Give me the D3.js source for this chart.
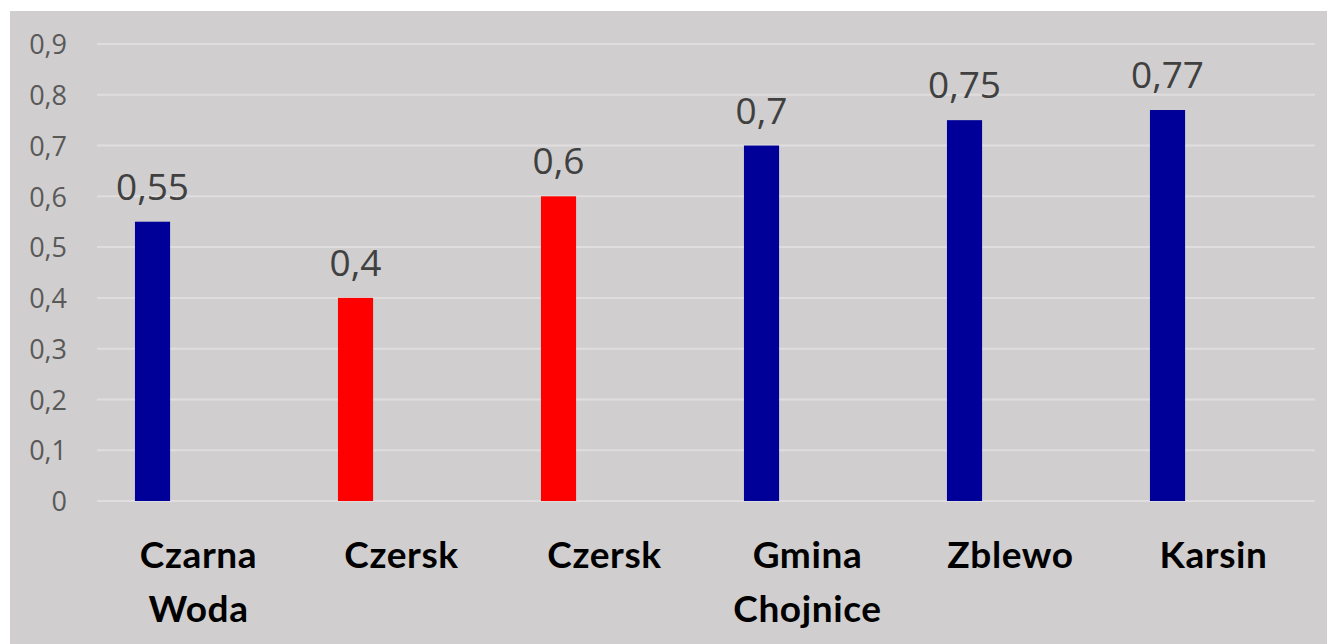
<!DOCTYPE html>
<html>
<head>
<meta charset="utf-8">
<script src="https://cdn.jsdelivr.net/npm/d3@7"></script>
<style>
  body { margin: 0; background: #fff; }
  svg { display: block; }
</style>
</head>
<body>
<svg width="1327" height="644"></svg>
<script>
var categories = [["Czarna", "Woda"], ["Czersk"], ["Czersk"], ["Gmina", "Chojnice"], ["Zblewo"], ["Karsin"]];
var values = [0.55, 0.4, 0.6, 0.7, 0.75, 0.77];
var barColors = ["#000099", "#ff0000", "#ff0000", "#000099", "#000099", "#000099"];
var yTicks = [0, 0.1, 0.2, 0.3, 0.4, 0.5, 0.6, 0.7, 0.8, 0.9];

var svg = d3.select("svg"),
    width = +svg.attr("width"),
    height = +svg.attr("height");

var fmt = function(v) { return String(v).replace(".", ","); };

svg.append("rect")
    .attr("x", 10)
    .attr("y", 11)
    .attr("width", width - 10)
    .attr("height", height - 11)
    .attr("fill", "#d0cece");

var x = d3.scaleBand()
    .domain(d3.range(categories.length))
    .range([97, 1315]);

var y = d3.scaleLinear()
    .domain([0, 0.9])
    .range([501, 44]);

var barW = x.bandwidth() * 0.173,
    barOff = x.bandwidth() * 0.187;

// grid
svg.append("g")
    .selectAll("line")
    .data(yTicks)
    .enter().append("line")
    .attr("x1", x.range()[0])
    .attr("x2", x.range()[1])
    .attr("y1", function(d) { return y(d); })
    .attr("y2", function(d) { return y(d); })
    .attr("stroke", "#dfdddd")
    .attr("stroke-width", 2);

// y axis labels
var yAxis = svg.append("g")
    .attr("transform", "translate(67,0)")
    .call(d3.axisLeft(y).tickValues(yTicks).tickSize(0).tickPadding(0).tickFormat(fmt));
yAxis.select(".domain").remove();
yAxis.selectAll("text")
    .attr("fill", "#595959")
    .attr("font-family", "'Open Sans', sans-serif")
    .attr("font-size", 27)
    .attr("dy", "0.36em");

// bars
svg.append("g")
    .selectAll("rect")
    .data(values)
    .enter().append("rect")
    .attr("x", function(d, i) { return x(i) + barOff; })
    .attr("y", function(d) { return y(d); })
    .attr("width", barW)
    .attr("height", function(d) { return y(0) - y(d); })
    .attr("fill", function(d, i) { return barColors[i]; });

// value labels
svg.append("g")
    .selectAll("text")
    .data(values)
    .enter().append("text")
    .attr("x", function(d, i) { return x(i) + barOff + barW / 2; })
    .attr("y", function(d) { return y(d) - 22; })
    .attr("text-anchor", "middle")
    .attr("fill", "#404040")
    .attr("font-family", "'Open Sans', sans-serif")
    .attr("font-size", 37)
    .text(fmt);

// category labels
var cat = svg.append("g")
    .selectAll("text")
    .data(categories)
    .enter().append("text")
    .attr("x", function(d, i) { return x(i) + x.bandwidth() / 2; })
    .attr("y", 568)
    .attr("text-anchor", "middle")
    .attr("fill", "#000")
    .attr("font-family", "Lato, sans-serif")
    .attr("font-weight", "bold")
    .attr("font-size", 37)
    .attr("letter-spacing", 0.6);

cat.selectAll("tspan")
    .data(function(d) { return d; })
    .enter().append("tspan")
    .attr("x", function() { return d3.select(this.parentNode).attr("x"); })
    .attr("dy", function(d, i) { return i ? 54 : 0; })
    .text(function(d) { return d; });
</script>
</body>
</html>
